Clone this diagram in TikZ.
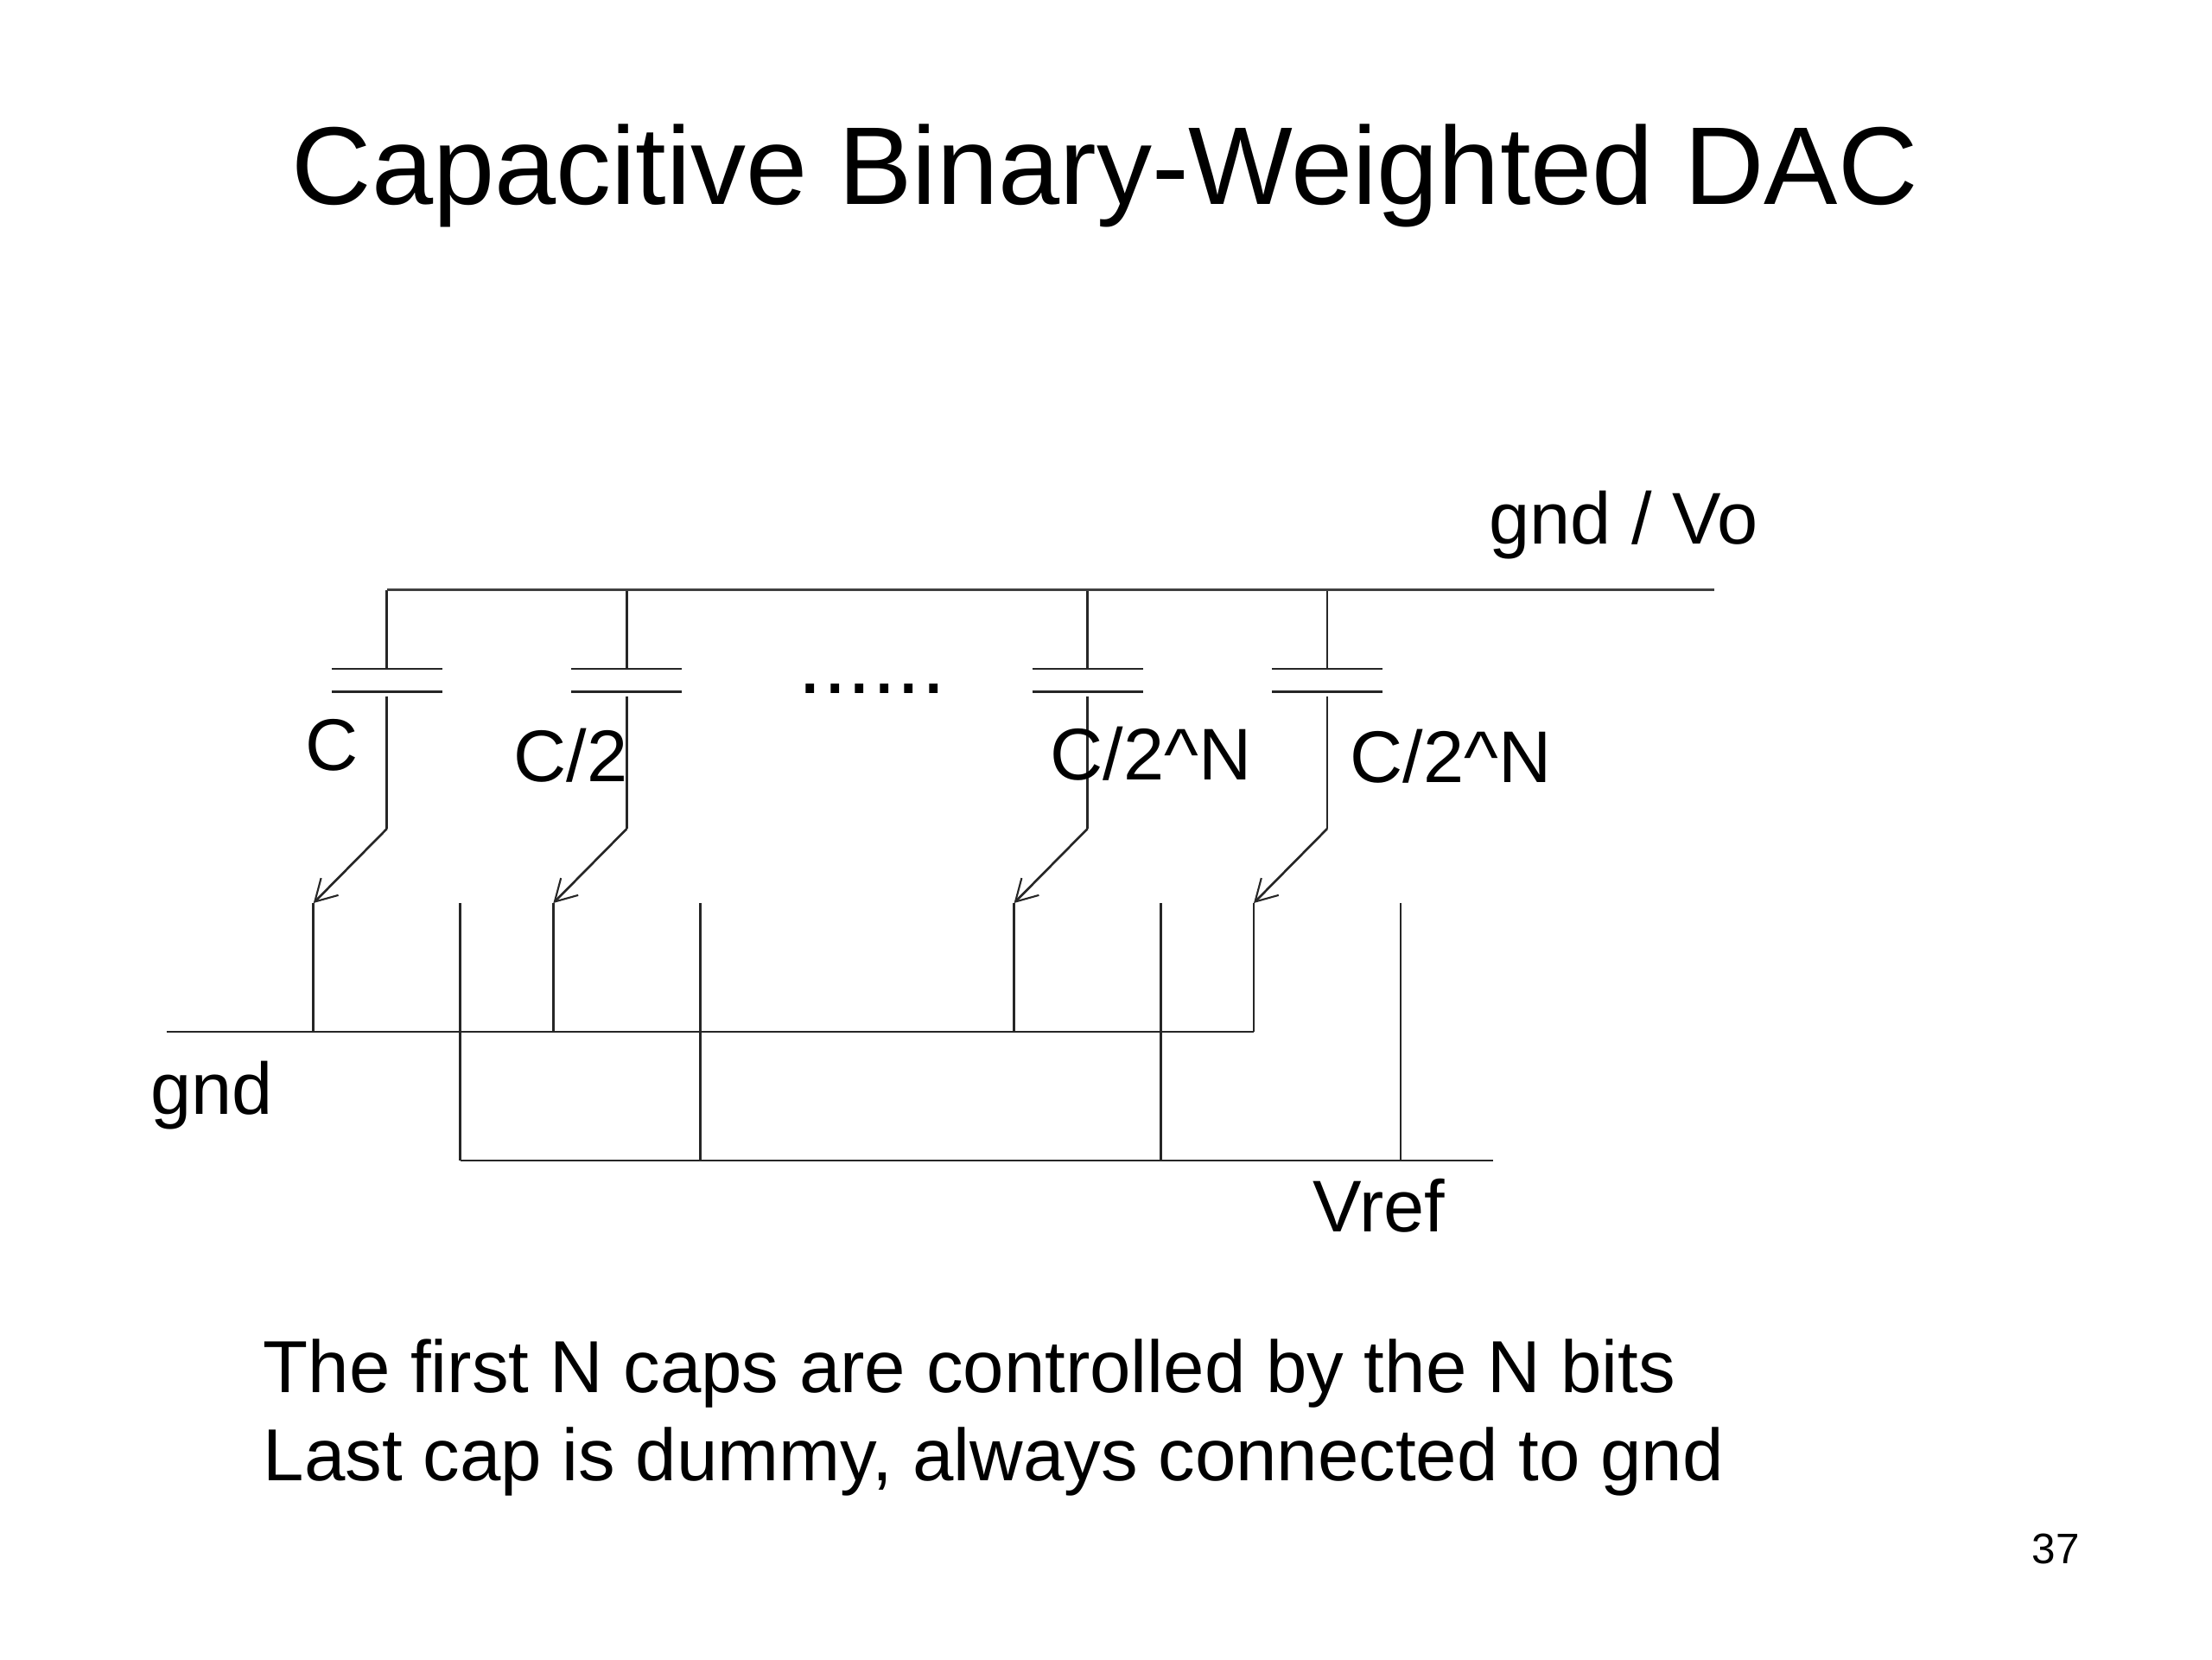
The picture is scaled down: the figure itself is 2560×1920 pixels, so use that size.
\documentclass[tikz,border=0pt]{standalone}
\usepackage{fontspec}
\setmainfont{Liberation Sans}
\usetikzlibrary{arrows.meta}
\tikzset{
  wire/.style={line width=0.75pt,color=black!85},
  busline/.style={line width=0.85pt,color=black!75},
  sw/.style={wire,-{Straight Barb[length=7pt,width=8pt,line width=0.6pt]}},
  lbl/.style={anchor=base west,inner sep=0pt,font=\fontsize{24bp}{29bp}\selectfont},
  body/.style={anchor=base west,inner sep=0pt,font=\fontsize{24.15bp}{29bp}\selectfont}
}
\begin{document}
\begin{tikzpicture}[x=0.01cm,y=-0.01cm]
  \useasboundingbox (0,0) rectangle (2560,1920);

  \node[anchor=base west,inner sep=0pt,font=\fontsize{36.25bp}{43bp}\selectfont] (title) at (337,236) {Capacitive Binary-Weighted DAC};

  % the four switched capacitors
  \foreach \nm/\xx in {capa/447.8,capb/725.4,capc/1258.6,capd/1536} {
    \coordinate (\nm top) at (\xx,682.5);
    \coordinate (\nm plus) at (\xx,774);
    \coordinate (\nm stem) at (\xx,805.5);
    \coordinate (\nm elbow) at (\xx,959);
    \coordinate (\nm tip) at (\xx-85,1045);
    \coordinate (\nm low) at (\xx-85,1194);
    \coordinate (\nm ref) at (\xx+85,1045);
    \coordinate (\nm vref) at (\xx+85,1343);
    \draw[wire] (\nm top) -- (\nm plus);
    \draw[wire] (\xx-64,774) -- (\xx+64,774);
    \draw[wire] (\xx-64,800.5) -- (\xx+64,800.5);
    \draw[wire] (\nm stem) -- (\nm elbow);
    \draw[sw] (\nm elbow) -- (\nm tip);
    \draw[wire] (\nm tip) -- (\nm low);
    \draw[wire] (\nm ref) -- (\nm vref);
  }

  % the three rails
  \coordinate (gndleft) at (192.5,1194);
  \coordinate (vrefright) at (1727.5,1343);
  \coordinate (outright) at (1984,682.5);
  \draw[busline] (capatop) -- (outright);
  \draw[wire] (gndleft) -- (capdlow);
  \draw[wire] (capavref) -- (vrefright);

  \node[lbl] (outlabel) at (1723,629) {gnd / Vo};
  \node[lbl] (lblc) at (353,891) {C};
  \node[lbl] (lblhalf) at (594,904) {C/2};
  \node[lbl] (lbln) at (1215,902) {C/2\string^N};
  \node[lbl] (lbldummy) at (1562,905) {C/2\string^N};
  \node[lbl,font=\fontsize{29bp}{34bp}\selectfont] (dots) at (923,802) {......};
  \node[lbl] (gndlabel) at (174,1289) {gnd};
  \node[lbl] (vreflabel) at (1519,1425) {Vref};

  \node[body] (noteone) at (304,1611) {The first N caps are controlled by the N bits};
  \node[body] (notetwo) at (304,1713) {Last cap is dummy, always connected to gnd};
  \node[anchor=base west,inner sep=0pt,font=\fontsize{14bp}{17bp}\selectfont] (pagenum) at (2351,1809) {37};
\end{tikzpicture}
\end{document}
